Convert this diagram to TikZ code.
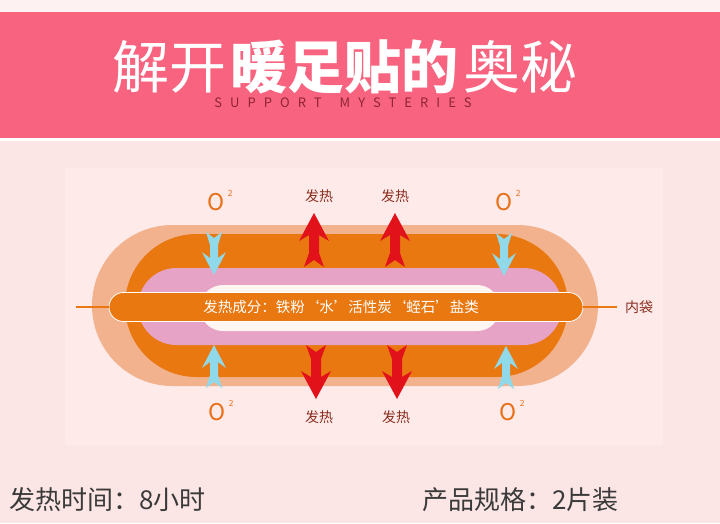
\documentclass[tikz,border=0pt]{standalone}
\usepackage{fontspec}
\setmainfont{Noto Sans CJK SC}
\usepackage{tikz}
\usetikzlibrary{shapes}
\usetikzlibrary{calc}
\usetikzlibrary{positioning}

\definecolor{bannerpink}{HTML}{F8647F}
\definecolor{bgpink}{HTML}{FCE6E5}
\definecolor{toppink}{HTML}{FDF1F1}
\definecolor{panelpink}{HTML}{FDEAE9}
\definecolor{peach}{HTML}{F1B28D}
\definecolor{deeporange}{HTML}{EA7811}
\definecolor{lilac}{HTML}{E6A3C6}
\definecolor{cream}{HTML}{FFF6F2}
\definecolor{oxcyan}{HTML}{8FD9EA}
\definecolor{heatred}{HTML}{E2121B}
\definecolor{labelbrown}{HTML}{8A2E1F}
\definecolor{oxorange}{HTML}{EA7018}
\definecolor{subred}{HTML}{8E2435}
\definecolor{footgray}{HTML}{3A3A3A}

\begin{document}
\begin{tikzpicture}[x=1pt,y=-1pt]
        \tikzstyle{title}=[inner sep=0pt, text=white, font=\fontsize{57}{57}\selectfont]
        \tikzstyle{lbl}=[inner sep=0pt, text=labelbrown, font=\fontsize{14}{14}\selectfont]
        \tikzstyle{oxy}=[inner sep=0pt, text=oxorange, font=\fontsize{23}{23}\selectfont]
        \tikzstyle{sq}=[inner sep=0pt, text=oxorange, font=\fontsize{8.5}{9}\selectfont, anchor=south west]
        \tikzstyle{foot}=[inner sep=0pt, anchor=west, text=footgray, font=\fontsize{26}{26}\selectfont]
        \tikzstyle{lead}=[draw=deeporange, line width=2pt]
        
        \newcommand{\oxarrow}[2]{\fill[oxcyan, shift={(#1)}, rotate=#2]
            (0,0)--(12,23)--(4,17)--(4,30)--(8,43)--(0,37)--(-8,43)--(-4,30)--(-4,17)--(-12,23)--cycle;}
        \newcommand{\heatarrow}[2]{\fill[heatred, shift={(#1)}, rotate=#2]
            (0,0)--(15,28)--(5,22)--(5,40)--(10,54)--(0,47)--(-10,54)--(-5,40)--(-5,22)--(-15,28)--cycle;}
        
        % background and banner
        \fill[bgpink] (0,0) rectangle (720,523);
        \fill[toppink] (0,0) rectangle (720,12);
        \fill[panelpink] (65,168) rectangle (663,445);
        \fill[bannerpink] (0,12) rectangle (720,138);
        \fill[white] (0,138) rectangle (720,141);
        
        \node (t1) at (112,67) [title, anchor=west]{解开};
        \node (t2) [title, right=4pt of t1]{\textbf{暖足贴的}};
        \node (t3) [title, right=4pt of t2]{奥秘};
        \node (sub) at (343,103) [inner sep=0pt, text=subred,
            font=\fontsize{13}{13}\selectfont\addfontfeature{LetterSpace=62}]{SUPPORT\hspace{7pt} MYSTERIES};
        
        % the pad
        \fill[peach, rounded corners=80.5pt] (92,225) rectangle (598,386);
        \fill[deeporange, rounded corners=71.5pt] (125,234) rectangle (568,377);
        \fill[lilac, rounded corners=38.5pt] (138,268) rectangle (562,345);
        \fill[cream, rounded corners=23pt] (200,285) rectangle (500,331);
        
        \coordinate (lend) at (76,307);
        \coordinate (rend) at (617,307);
        \node (bar) at (346,307) [rounded rectangle, minimum width=474pt, minimum height=29pt,
            inner sep=0pt, fill=deeporange, draw=white, line width=0.8pt]{};
        \draw[lead] (lend)--(bar.west);
        \draw[lead] (bar.east)--(rend);
        \node (mix) at (341,307) [inner sep=0pt, text=white, font=\fontsize{14.5}{15}\selectfont]
            {发热成分：铁粉‘水’活性炭‘蛭石’盐类};
        \node (bag) at (639,307) [lbl]{内袋};
        
        % oxygen in
        \coordinate (ca) at (214,275);
        \coordinate (cb) at (504,276);
        \coordinate (cc) at (214,345);
        \coordinate (cd) at (506,346);
        \oxarrow{ca}{180}
        \oxarrow{cb}{180}
        \oxarrow{cc}{0}
        \oxarrow{cd}{0}
        
        \node (o1) at (216,202) [oxy]{O};
        \node (o2) at (504,202) [oxy]{O};
        \node (o3) at (217,412) [oxy]{O};
        \node (o4) at (508,412) [oxy]{O};
        \node (s1) at ($(o1.north east)+(3,4)$) [sq]{2};
        \node (s2) at ($(o2.north east)+(3,4)$) [sq]{2};
        \node (s3) at ($(o3.north east)+(3,4)$) [sq]{2};
        \node (s4) at ($(o4.north east)+(3,4)$) [sq]{2};
        
        % heat out
        \coordinate (ra) at (314,213);
        \coordinate (rb) at (395,213);
        \coordinate (rc) at (316,399);
        \coordinate (rd) at (397,399);
        \heatarrow{ra}{0}
        \heatarrow{rb}{0}
        \heatarrow{rc}{180}
        \heatarrow{rd}{180}
        
        \node (h1) at (319,196) [lbl]{发热};
        \node (h2) at (395,196) [lbl]{发热};
        \node (h3) at (319,417) [lbl]{发热};
        \node (h4) at (396,417) [lbl]{发热};
        
        \node (ft1) at (9,500) [foot]{发热时间：8小时};
        \node (ft2) at (422,500) [foot]{产品规格：2片装};
        
    \end{tikzpicture}
\end{document}
